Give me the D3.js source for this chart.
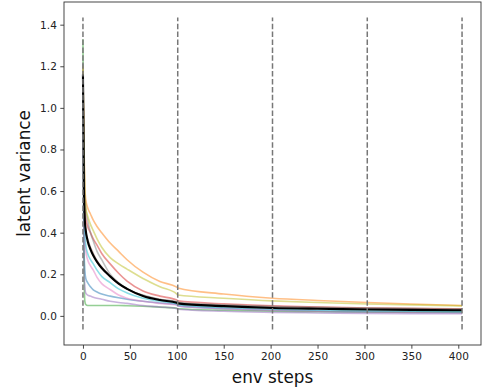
<!DOCTYPE html>
<html>
<head>
<meta charset="utf-8">
<script src="https://cdn.jsdelivr.net/npm/d3@7"></script>
<style>
  html, body { margin: 0; padding: 0; background: #fff; }
  svg { display: block; font-family: "DejaVu Sans", sans-serif; }
</style>
</head>
<body>
<svg id="chart" width="484" height="389"></svg>
<script>
// Environment steps at which latent variance was sampled
const steps = [0, 1, 2, 3, 5, 8, 11, 15, 20, 29, 38, 47, 64, 82, 100, 101, 150, 202, 250, 303, 350, 404];

// Latent variance per run (tab10 colour order)
const runBlue   = [1.14, 0.35, 0.22, 0.18, 0.16, 0.14, 0.125, 0.115, 0.105, 0.095, 0.087, 0.08, 0.07, 0.062, 0.055, 0.048, 0.035, 0.027, 0.022, 0.019, 0.017, 0.016];
const runOrange = [1.18, 0.85, 0.62, 0.56, 0.52, 0.49, 0.46, 0.43, 0.40, 0.35, 0.31, 0.27, 0.21, 0.165, 0.138, 0.134, 0.105, 0.085, 0.074, 0.064, 0.057, 0.05];
const runGreen  = [1.33, 0.30, 0.07, 0.055, 0.05, 0.05, 0.05, 0.05, 0.05, 0.05, 0.05, 0.049, 0.046, 0.042, 0.037, 0.034, 0.027, 0.022, 0.02, 0.019, 0.018, 0.017];
const runRed    = [1.15, 0.70, 0.52, 0.47, 0.43, 0.40, 0.37, 0.34, 0.30, 0.25, 0.205, 0.167, 0.12, 0.095, 0.076, 0.072, 0.058, 0.048, 0.042, 0.038, 0.035, 0.033];
const runPurple = [1.13, 0.25, 0.14, 0.11, 0.10, 0.095, 0.09, 0.085, 0.08, 0.07, 0.064, 0.06, 0.05, 0.043, 0.035, 0.032, 0.022, 0.017, 0.014, 0.012, 0.011, 0.01];
const runBrown  = [1.15, 0.65, 0.47, 0.41, 0.37, 0.33, 0.30, 0.265, 0.235, 0.19, 0.155, 0.13, 0.098, 0.078, 0.065, 0.062, 0.052, 0.045, 0.041, 0.038, 0.036, 0.034];
const runPink   = [1.20, 0.50, 0.36, 0.31, 0.27, 0.24, 0.22, 0.185, 0.155, 0.127, 0.10, 0.085, 0.07, 0.06, 0.052, 0.048, 0.035, 0.027, 0.023, 0.02, 0.018, 0.016];
const runGray   = [1.22, 0.80, 0.60, 0.52, 0.46, 0.40, 0.36, 0.31, 0.27, 0.20, 0.16, 0.13, 0.10, 0.08, 0.068, 0.064, 0.052, 0.045, 0.04, 0.036, 0.033, 0.03];
const runOlive  = [1.20, 0.80, 0.58, 0.52, 0.48, 0.44, 0.41, 0.37, 0.33, 0.28, 0.25, 0.225, 0.18, 0.14, 0.105, 0.10, 0.085, 0.072, 0.064, 0.057, 0.053, 0.048];
const runCyan   = [1.14, 0.55, 0.40, 0.34, 0.30, 0.27, 0.25, 0.22, 0.19, 0.16, 0.13, 0.11, 0.085, 0.07, 0.058, 0.054, 0.04, 0.032, 0.027, 0.024, 0.022, 0.02];

// Mean over runs
const meanRun   = [1.16, 0.62, 0.46, 0.41, 0.36, 0.32, 0.29, 0.26, 0.23, 0.19, 0.155, 0.13, 0.096, 0.076, 0.063, 0.06, 0.047, 0.038, 0.034, 0.031, 0.029, 0.027];

// Episode boundaries and their vertical extent
const episodeStarts = [0, 101, 202, 303, 404];
const boundaryExtent = [-0.065, 1.434];

const runs = [runBlue, runOrange, runGreen, runRed, runPurple, runBrown, runPink, runGray, runOlive, runCyan];
const runColors = d3.schemeCategory10;

const xTicks = [0, 50, 100, 150, 200, 250, 300, 350, 400];
const yTicks = [0.0, 0.2, 0.4, 0.6, 0.8, 1.0, 1.2, 1.4];

const svg = d3.select("#chart");
const plot = { left: 64, right: 481, top: 2, bottom: 345 };

const x = d3.scaleLinear().domain([-20.2, 424.2]).range([plot.left, plot.right]);
const y = d3.scaleLinear().domain([-0.14, 1.509]).range([plot.bottom, plot.top]);

svg.append("defs").append("clipPath").attr("id", "plotClip")
  .append("rect")
  .attr("x", plot.left).attr("y", plot.top)
  .attr("width", plot.right - plot.left).attr("height", plot.bottom - plot.top);

const area = svg.append("g").attr("clip-path", "url(#plotClip)");

const line = d3.line()
  .x((d, i) => x(steps[i]))
  .y(d => y(d))
  .curve(d3.curveMonotoneX);

runs.forEach((vals, k) => {
  area.append("path")
    .datum(vals)
    .attr("d", line)
    .attr("fill", "none")
    .attr("stroke", runColors[k])
    .attr("stroke-opacity", 0.5)
    .attr("stroke-width", 1.6)
    .attr("stroke-linejoin", "round");
});

area.append("path")
  .datum(meanRun)
  .attr("d", line)
  .attr("fill", "none")
  .attr("stroke", "#000")
  .attr("stroke-width", 2.1)
  .attr("stroke-linejoin", "round");

// Dashed markers at episode boundaries
area.selectAll("line.boundary")
  .data(episodeStarts)
  .join("line")
  .attr("class", "boundary")
  .attr("x1", d => x(d)).attr("x2", d => x(d))
  .attr("y1", y(boundaryExtent[0])).attr("y2", y(boundaryExtent[1]))
  .attr("stroke", "#777")
  .attr("stroke-width", 1.5)
  .attr("stroke-dasharray", "5.5,2.4");

// Axes
const xAxis = d3.axisBottom(x).tickValues(xTicks).tickSize(3.7).tickPadding(3.5)
  .tickFormat(d3.format("d"));
const yAxis = d3.axisLeft(y).tickValues(yTicks).tickSize(3.7).tickPadding(3.5)
  .tickFormat(d3.format(".1f"));

const gx = svg.append("g").attr("transform", `translate(0,${plot.bottom})`).call(xAxis);
const gy = svg.append("g").attr("transform", `translate(${plot.left},0)`).call(yAxis);

[gx, gy].forEach(g => {
  g.select(".domain").remove();
  g.selectAll(".tick line").attr("stroke", "#333").attr("stroke-width", 0.9);
  g.selectAll(".tick text").attr("fill", "#222").style("font-size", "10.5px")
    .style("font-family", "DejaVu Sans, sans-serif");
});

// Frame
svg.append("rect")
  .attr("x", plot.left).attr("y", plot.top)
  .attr("width", plot.right - plot.left).attr("height", plot.bottom - plot.top)
  .attr("fill", "none").attr("stroke", "#333").attr("stroke-width", 0.9);

// Axis titles
svg.append("text")
  .attr("x", (plot.left + plot.right) / 2).attr("y", 383)
  .attr("text-anchor", "middle")
  .style("font-size", "16.8px").attr("fill", "#111")
  .text("env steps");

svg.append("text")
  .attr("transform", `translate(30,${(plot.top + plot.bottom) / 2}) rotate(-90)`)
  .attr("text-anchor", "middle")
  .style("font-size", "16.8px").attr("fill", "#111")
  .text("latent variance");
</script>
</body>
</html>
